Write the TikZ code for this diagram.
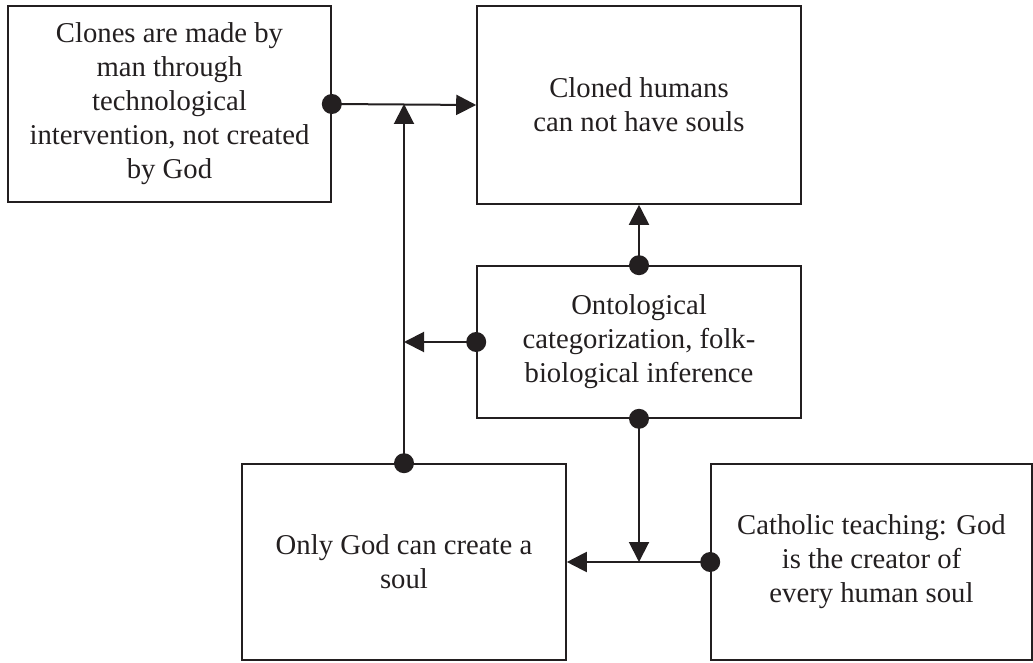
\documentclass[tikz,border=0pt]{standalone}
\usepackage{fontspec}
\setmainfont{Liberation Serif}
\usetikzlibrary{arrows.meta}
\definecolor{ink}{HTML}{231F20}
\begin{document}
\begin{tikzpicture}[x=1pt,y=-1pt,
  box/.style={draw=ink,line width=1.6pt,rectangle,align=center,inner sep=0pt,
    text=ink,font=\fontsize{28.7}{34}\selectfont},
  link/.style={draw=ink,line width=2pt,-{Triangle[length=20pt,width=20pt]}},
  dot/.style={fill=ink}]
\useasboundingbox (0,0) rectangle (1033,663);
\node[box,minimum width=323pt,minimum height=196pt] (b1) at (169.5,104)
  {Clones are made by\\man through\\technological\\intervention, not created\\by God};
\node[box,minimum width=324pt,minimum height=198pt] (b2) at (639,105)
  {Cloned humans\\can not have souls};
\node[box,minimum width=324pt,minimum height=152pt] (b3) at (639,342)
  {Ontological\\categorization, folk-\\biological inference};
\node[box,minimum width=324pt,minimum height=196pt] (b4) at (404,562)
  {Only God can create a\\soul};
\node[box,minimum width=321pt,minimum height=196pt] (b5) at (871.5,562)
  {Catholic teaching: God\\is the creator of\\every human soul};
% junction points on the connecting lines
\coordinate (j1) at (b4.north |- b1.east);
\coordinate (j2) at (b4.north |- b3.west);
\coordinate (j3) at (b3.south |- b5.west);
\draw[link] (b1.east) -- (b2.west);
\draw[link] (b4.north) -- (j1);
\draw[link] (b3.west) -- (j2);
\draw[link] (b3.north) -- (b2.south);
\draw[link] (b3.south) -- (j3);
\draw[link] (b5.west) -- (b4.east);
% dots where each connector leaves its box
\foreach \p in {b1.east,b4.north,b3.west,b3.north,b3.south,b5.west}
  \fill[dot] (\p) circle (10pt);
\end{tikzpicture}
\end{document}
